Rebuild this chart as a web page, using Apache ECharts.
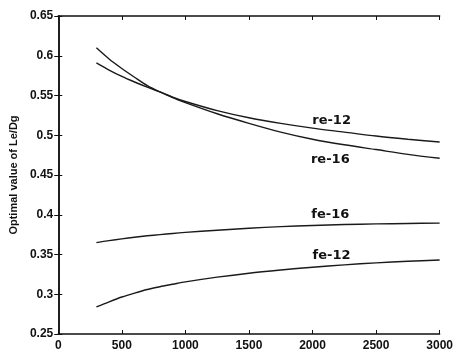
<!DOCTYPE html>
<html>
<head>
<meta charset="utf-8">
<script src="https://cdn.jsdelivr.net/npm/echarts@6/dist/echarts.min.js"></script>
<style>
  html, body { margin: 0; padding: 0; background: #fff; }
  #chart { width: 456px; height: 354px; }
</style>
</head>
<body>
<div id="chart"></div>
<script>
// Le/Dg optimal values vs x
const xValues = [300, 400, 500, 600, 700, 800, 900, 1000, 1250, 1500, 1750, 2000, 2250, 2500, 2750, 3000];
const re12 = [0.591, 0.582, 0.574, 0.567, 0.5605, 0.5545, 0.548, 0.5425, 0.531, 0.522, 0.515, 0.509, 0.504, 0.499, 0.495, 0.4915];
const re16 = [0.610, 0.596, 0.584, 0.573, 0.5625, 0.5545, 0.5475, 0.541, 0.527, 0.515, 0.504, 0.495, 0.488, 0.482, 0.476, 0.471];
const fe16 = [0.365, 0.3675, 0.3697, 0.3717, 0.3735, 0.375, 0.3765, 0.3778, 0.3805, 0.383, 0.385, 0.3865, 0.3877, 0.3885, 0.389, 0.3895];
const fe12 = [0.284, 0.2905, 0.2965, 0.3015, 0.306, 0.3095, 0.3125, 0.3155, 0.3215, 0.3265, 0.3305, 0.334, 0.337, 0.3395, 0.3415, 0.343];

// curve name labels: [name, x, y]
const curveLabels = [
  ['re-12', 2150, 0.519],
  ['re-16', 2140, 0.469],
  ['fe-16', 2140, 0.400],
  ['fe-12', 2150, 0.349]
];

const chart = echarts.init(document.getElementById('chart'));

const tickFont = { color: '#111', fontFamily: 'Liberation Sans', fontWeight: 'bold', fontSize: 12 };
const lineStyle = { color: '#111', width: 1.5 };

function makeSeries(name, values) {
  return {
    name: name,
    type: 'line',
    data: xValues.map((x, i) => [x, values[i]]),
    smooth: 0.3,
    showSymbol: false,
    lineStyle: { color: '#1a1a1a', width: 1.4 },
    silent: true
  };
}

const series = [
  makeSeries('re-12', re12),
  makeSeries('re-16', re16),
  makeSeries('fe-16', fe16),
  makeSeries('fe-12', fe12)
];

series[0].markPoint = {
  symbol: 'circle',
  symbolSize: 1,
  itemStyle: { color: 'rgba(0,0,0,0)' },
  silent: true,
  data: curveLabels.map(l => ({
    coord: [l[1], l[2]],
    label: {
      show: true,
      position: 'inside',
      formatter: l[0],
      color: '#111',
      fontFamily: 'DejaVu Sans',
      fontWeight: 'bold',
      fontSize: 13
    }
  }))
};

chart.setOption({
  animation: false,
  backgroundColor: '#fff',
  grid: { left: 58, right: 9, top: 16, bottom: 20 },
  xAxis: [
    {
      type: 'value', min: 0, max: 3000, interval: 500,
      axisLine: { lineStyle: lineStyle },
      axisTick: { inside: true, length: 4, lineStyle: { color: '#111' } },
      axisLabel: Object.assign({ margin: 6, formatter: v => String(v) }, tickFont),
      splitLine: { show: false }
    },
    {
      type: 'value', position: 'top', min: 0, max: 3000, interval: 500,
      axisLine: { show: true, lineStyle: lineStyle },
      axisTick: { inside: true, length: 4, lineStyle: { color: '#111' } },
      axisLabel: { show: false },
      splitLine: { show: false }
    }
  ],
  yAxis: [
    {
      type: 'value', min: 0.25, max: 0.65, interval: 0.05,
      name: 'Optimal value of Le/Dg',
      nameLocation: 'middle',
      nameGap: 36,
      nameTextStyle: { color: '#111', fontFamily: 'Liberation Sans', fontWeight: 'bold', fontSize: 11 },
      axisLine: { show: true, lineStyle: lineStyle },
      axisTick: { inside: true, length: 4, lineStyle: { color: '#111' } },
      axisLabel: Object.assign({ margin: 5 }, tickFont),
      splitLine: { show: false }
    },
    {
      type: 'value', position: 'right', min: 0.25, max: 0.65, interval: 0.05,
      axisLine: { show: true, lineStyle: lineStyle },
      axisTick: { inside: true, length: 4, lineStyle: { color: '#111' } },
      axisLabel: { show: false },
      splitLine: { show: false }
    }
  ],
  series: series
});
</script>
</body>
</html>
